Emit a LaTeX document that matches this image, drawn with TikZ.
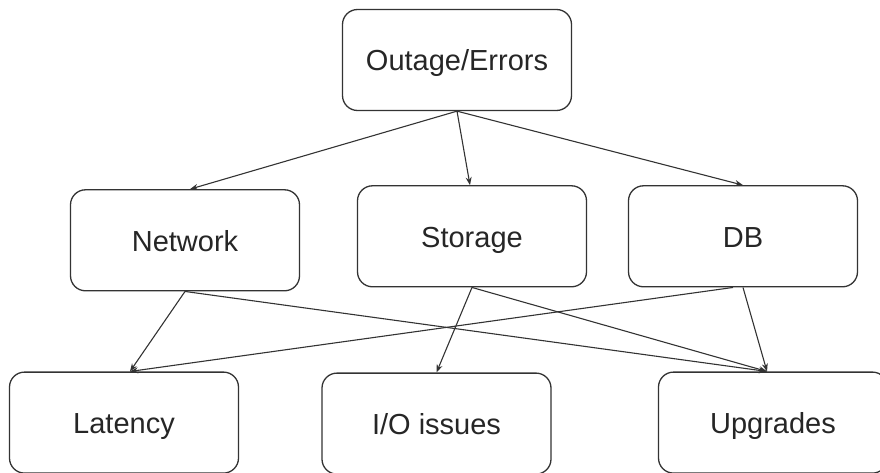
\documentclass[tikz,border=0pt]{standalone}
\usepackage{fontspec}
\setmainfont{Liberation Sans}
\usetikzlibrary{positioning}
\usetikzlibrary{arrows.meta}
\definecolor{TraitGris}{HTML}{333333}

\begin{document}
\begin{tikzpicture}[x=1pt, y=1pt, every node/.style={font=\fontsize{29}{34}\selectfont, text=black!85},
	box/.style={draw=TraitGris, line width=1.3pt, rectangle, rounded corners=15pt, minimum width=229pt, minimum height=101pt, text height=26pt, text depth=4pt, align=center},
	fleche/.style={draw=TraitGris, line width=1.1pt, -{Stealth[length=8pt,width=6pt]}},
	node distance=74pt and 1cm]
			\useasboundingbox (0,0) rectangle (880,472);
			% Boite du haut
			\node[box] (outage) at (457,412) {Outage/Errors};
			%
			% Deuxieme rangee : Network, Storage, DB
			\node[box, below=of outage, xshift=15pt] (storage) {Storage};
			\node[box, below=of outage, xshift=-272pt, yshift=-4pt] (network) {Network};
			\node[box, below=of outage, xshift=286pt] (db) {DB};
			\draw[fleche] (outage.south) -- ([xshift=5pt]network.north);
			\draw[fleche] (outage.south) -- ([xshift=-2pt]storage.north);
			\draw[fleche] (outage.south) -- (db.north);
			%
			% Troisieme rangee : Latency, I/O issues, Upgrades
			\node[box, below=84pt of storage, xshift=-348pt] (latency) {Latency};
			\node[box, below=85pt of storage, xshift=-35.5pt] (io) {I/O issues};
			\node[box, below=84pt of storage, xshift=301pt] (upgrades) {Upgrades};
			%
			% Liens vers la rangee du bas
			\draw[fleche] (network.south) -- ([xshift=6pt]latency.north);
			\draw[fleche] (network.south) -- ([xshift=-6pt]upgrades.north);
			\draw[fleche] (storage.south) -- (io.north);
			\draw[fleche] (storage.south) -- ([xshift=-6pt]upgrades.north);
			\draw[fleche] ([xshift=-10pt]db.south) -- ([xshift=6pt]latency.north);
			\draw[fleche] (db.south) -- ([xshift=-6pt]upgrades.north);
\end{tikzpicture}
\end{document}
